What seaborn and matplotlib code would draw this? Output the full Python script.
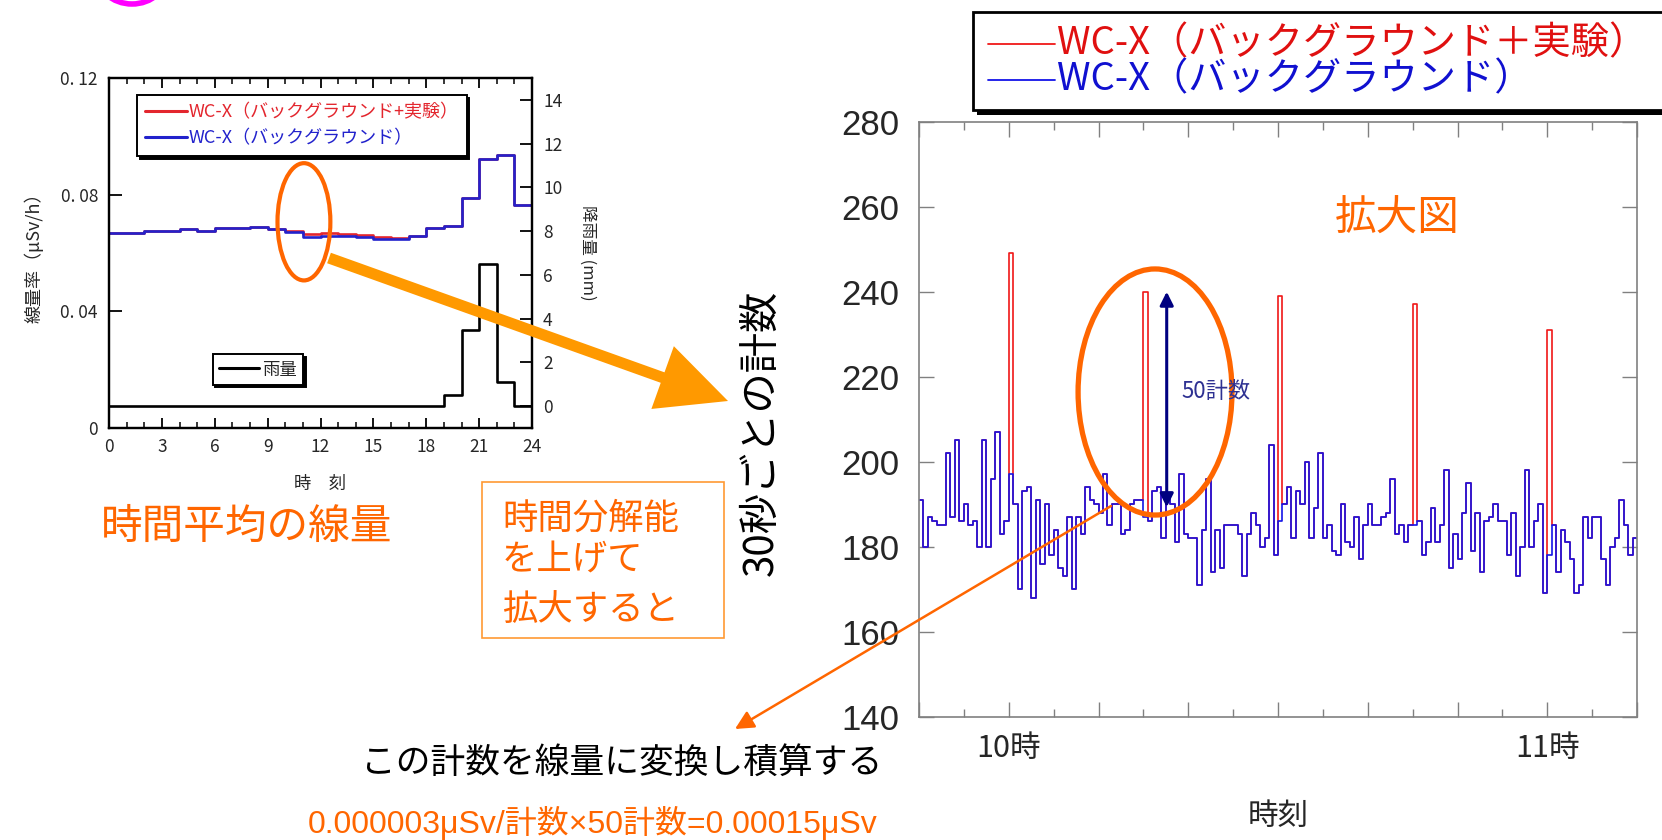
import numpy as np
import pandas as pd
import matplotlib
matplotlib.use("Agg")
import matplotlib.pyplot as plt
import seaborn as sns
from matplotlib.patches import Ellipse, Rectangle, FancyArrowPatch
from matplotlib.lines import Line2D
from matplotlib.ticker import FixedLocator, MultipleLocator

# ---------------- data: left chart (hourly averages) ----------------
hours = list(range(25))  # hour edges 0..24
dose_bg = [0.0669, 0.0669, 0.0677, 0.0677, 0.0682, 0.0677, 0.0686, 0.0686,
           0.0689, 0.0682, 0.0672, 0.0655, 0.0658, 0.0658, 0.0655, 0.0649,
           0.0649, 0.0658, 0.0686, 0.0693, 0.0789, 0.0923, 0.0935, 0.0763]
dose_exp = [0.0669, 0.0669, 0.0677, 0.0677, 0.0682, 0.0677, 0.0686, 0.0686,
            0.0689, 0.0682, 0.0676, 0.0666, 0.0668, 0.0664, 0.0662, 0.0655,
            0.0653, 0.0658, 0.0686, 0.0693, 0.0789, 0.0923, 0.0935, 0.0763]
rain_mm = [0, 0, 0, 0, 0, 0, 0, 0, 0, 0, 0, 0, 0, 0, 0, 0, 0, 0, 0,
           0.5, 3.5, 6.5, 1.1, 0.0]
left_yticks = [0, 0.04, 0.08, 0.12]
left_yticklabels = ["0", "0. 04", "0. 08", "0. 12"]
left_xticks = [0, 3, 6, 9, 12, 15, 18, 21, 24]
rain_ticks = [0, 2, 4, 6, 8, 10, 12, 14]

# ---------------- data: right chart (30 s counts, 9:50 - 11:10) ----------------
counts_bg = [191, 180, 187, 186, 185, 185, 202, 187, 205, 186,
             190, 185, 186, 180, 205, 180, 196, 207, 183, 186,
             197, 190, 170, 193, 194, 168, 191, 176, 190, 178,
             184, 175, 173, 187, 170, 187, 183, 194, 191, 190,
             188, 197, 185, 190, 190, 183, 184, 190, 191, 191,
             187, 186, 193, 194, 182, 192, 190, 181, 197, 183,
             182, 182, 171, 184, 196, 174, 184, 175, 185, 185,
             185, 183, 173, 183, 188, 185, 180, 182, 204, 178,
             186, 190, 194, 182, 193, 190, 200, 182, 189, 202,
             182, 185, 179, 178, 190, 181, 180, 187, 177, 185,
             190, 185, 185, 187, 188, 196, 183, 185, 181, 185,
             185, 186, 178, 181, 189, 181, 185, 198, 175, 183,
             177, 188, 195, 179, 188, 174, 186, 187, 190, 186,
             186, 178, 188, 173, 180, 198, 180, 186, 190, 169,
             178, 185, 174, 184, 181, 177, 169, 171, 187, 182,
             187, 187, 177, 171, 180, 182, 191, 185, 178, 182]
spike_steps = [20, 50, 80, 110, 140]
spike_counts = [249, 240, 239, 237, 231]
right_yticks = [140, 160, 180, 200, 220, 240, 260, 280]
right_xticks = [0, 20, 40, 60, 80, 100, 120, 140, 160]
right_xticklabels = ["", "10時", "", "", "", "", "", "11時", ""]

counts_exp = list(counts_bg)
for s, c in zip(spike_steps, spike_counts):
    counts_exp[s] = c


def ext(v):
    return list(v) + [v[-1]]


# ---------------- figure ----------------
sns.set_theme(style="white")
plt.rcParams["font.family"] = ["Noto Sans CJK JP", "DejaVu Sans"]
plt.rcParams["axes.unicode_minus"] = False

W, H = 1662, 840
fig = plt.figure(figsize=(W / 100, H / 100), dpi=100)
fig.patch.set_facecolor("white")


def fx(x):
    return x / W


def fy(y):
    return 1 - y / H


ORANGE = "#FF6600"

# ================= left chart =================
axL = fig.add_axes([fx(109), fy(428), (532 - 109) / W, (428 - 78) / H])
axL.set_facecolor("none")
axRain = axL.twinx()

dfL = pd.DataFrame({"hour": hours, "bg": ext(dose_bg), "exp": ext(dose_exp),
                    "rain": ext(rain_mm)})
sns.lineplot(data=dfL, x="hour", y="exp", ax=axL, color="#E3262E", lw=1.9,
             drawstyle="steps-post", estimator=None)
sns.lineplot(data=dfL, x="hour", y="bg", ax=axL, color="#2222CC", lw=1.9,
             drawstyle="steps-post", estimator=None)
sns.lineplot(data=dfL, x="hour", y="rain", ax=axRain, color="black", lw=1.9,
             drawstyle="steps-post", estimator=None)

axL.set_xlim(0, 24)
axL.set_ylim(0, 0.12)
axRain.set_ylim(-1.0, 15.0)
axL.xaxis.set_major_locator(FixedLocator(left_xticks))
axL.xaxis.set_minor_locator(MultipleLocator(1))
axL.yaxis.set_major_locator(FixedLocator(left_yticks))
axL.set_yticklabels(left_yticklabels)
axRain.yaxis.set_major_locator(FixedLocator(rain_ticks))
axL.tick_params(axis="x", which="major", direction="in", top=True, bottom=True,
                length=7, width=1.3, color="black", labelsize=12.5, pad=7)
axL.tick_params(axis="x", which="minor", direction="in", top=True, bottom=True,
                length=4, width=1.1, color="black")
axL.tick_params(axis="y", direction="in", left=True, right=False, length=9,
                width=1.3, color="black", labelsize=12.5, pad=8)
axRain.tick_params(axis="y", direction="in", right=True, length=9, width=1.3,
                   color="black", labelsize=12.5, pad=8)
for a in (axL, axRain):
    for sp in a.spines.values():
        sp.set_color("black")
        sp.set_linewidth(1.6)
axL.set_xlabel("時　刻", fontsize=12.5, labelpad=14)
axL.set_ylabel("線量率（μSv/h）", fontsize=13, labelpad=12)
axRain.set_ylabel("降雨量 (mm)", fontsize=12, rotation=270, labelpad=24)

legL = axRain.legend(
    handles=[Line2D([], [], color="#E3262E", lw=2.2),
             Line2D([], [], color="#2222CC", lw=2.2)],
    labels=["WC-X（バックグラウンド+実験）", "WC-X（バックグラウンド）"],
    loc="upper left", bbox_to_anchor=(0.066, 0.95), fontsize=13,
    frameon=True, fancybox=False, shadow={"color": "black", "alpha": 1},
    edgecolor="black", handlelength=2.3, handletextpad=0.1, borderpad=0.45,
    labelspacing=0.45, borderaxespad=0)
legL.get_frame().set_linewidth(1.4)
legL.get_texts()[0].set_color("#E3262E")
legL.get_texts()[1].set_color("#2222CC")
axRain.add_artist(legL)
legRain = axRain.legend(
    handles=[Line2D([], [], color="black", lw=2.2)], labels=["雨量"],
    loc="upper left", bbox_to_anchor=(0.245, 0.21), fontsize=12.5,
    frameon=True, fancybox=False, shadow={"color": "black", "alpha": 1},
    edgecolor="black", handlelength=2.3, handletextpad=0.2, borderpad=0.35,
    borderaxespad=0)
legRain.get_frame().set_linewidth(1.4)

axL.add_patch(Ellipse((11.06, 0.0707), 3.0, 0.0402, fill=False,
                      edgecolor=ORANGE, lw=3.0, zorder=5))

# ================= right chart =================
axR = fig.add_axes([fx(919), fy(716.7), (1637 - 919) / W, (716.7 - 121.7) / H])
steps = list(range(len(counts_bg) + 1))
dfR = pd.DataFrame({"step": steps, "exp": ext(counts_exp), "bg": ext(counts_bg)})
sns.lineplot(data=dfR, x="step", y="exp", ax=axR, color="#F01818", lw=1.2,
             drawstyle="steps-post", estimator=None)
sns.lineplot(data=dfR, x="step", y="bg", ax=axR, color="#1414E8", lw=1.2,
             drawstyle="steps-post", estimator=None)
axR.set_xlim(0, 160)
axR.set_ylim(140, 280)
axR.yaxis.set_major_locator(FixedLocator(right_yticks))
axR.xaxis.set_major_locator(FixedLocator(right_xticks))
axR.set_xticklabels(right_xticklabels)
axR.xaxis.set_minor_locator(FixedLocator(list(range(10, 160, 20))))
axR.tick_params(axis="x", which="major", direction="in", top=True, bottom=True,
                length=11, width=1.0, color="#808080", labelsize=22, pad=12)
axR.tick_params(axis="x", which="minor", direction="in", top=True, bottom=True,
                length=6, width=1.0, color="#808080")
axR.tick_params(axis="y", direction="in", left=True, right=True, length=11,
                width=1.0, color="#808080", labelsize=25, pad=14,
                labelfontfamily="Liberation Sans")
for sp in axR.spines.values():
    sp.set_color("#808080")
    sp.set_linewidth(1.2)
axR.set_xlabel("時刻", fontsize=22, labelpad=26)
axR.set_ylabel("")

axR.add_patch(Ellipse((52.6, 216.4), 34.3, 57.9, fill=False, edgecolor=ORANGE,
                      lw=3.8, zorder=5))
axR.annotate("", xy=(55.2, 240.0), xytext=(55.2, 189.3),
             arrowprops=dict(arrowstyle="<|-|>", color="#000080", lw=2.2,
                             mutation_scale=20, shrinkA=0, shrinkB=0), zorder=6)
axR.text(58.5, 216.6, "50計数", fontsize=16, color="#2E3192", va="center",
         ha="left", zorder=6)

# y label of right chart
fig.text(fx(761), fy(433), "30秒ごとの計数", rotation=90, fontsize=29,
         ha="center", va="center", color="black")

# right legend (manual box with shadow)
fig.add_artist(Rectangle((fx(977), fy(115)), (1700 - 977) / W, (115 - 16) / H,
                         transform=fig.transFigure, facecolor="black",
                         edgecolor="black", lw=0, zorder=3))
fig.add_artist(Rectangle((fx(973), fy(110)), (1700 - 973) / W, (110 - 12) / H,
                         transform=fig.transFigure, facecolor="white",
                         edgecolor="black", lw=2.0, zorder=4))
fig.add_artist(Line2D([fx(988), fx(1055)], [fy(44), fy(44)],
                      transform=fig.transFigure, color="#F01818", lw=1.3,
                      zorder=5))
fig.add_artist(Line2D([fx(988), fx(1055)], [fy(80), fy(80)],
                      transform=fig.transFigure, color="#1414E8", lw=1.3,
                      zorder=5))
fig.text(fx(1057), fy(44), "WC-X（バックグラウンド＋実験）", fontsize=27.5,
         color="#E01010", ha="left", va="center", zorder=6)
fig.text(fx(1057), fy(80), "WC-X（バックグラウンド）", fontsize=27.5,
         color="#1010D0", ha="left", va="center", zorder=6)

# ================= annotations =================
fig.text(fx(1397), fy(219), "拡大図", fontsize=30, color=ORANGE,
         style="italic", ha="center", va="center")

# big orange arrow from left ellipse to right chart
fig.add_artist(FancyArrowPatch(
    (fx(329), fy(258)), (fx(728), fy(401)), transform=fig.transFigure,
    arrowstyle="simple,head_length=1.25,head_width=1.2,tail_width=0.2",
    mutation_scale=40, color="#FF9900", lw=0, shrinkA=0, shrinkB=0, zorder=7))

# thin orange pointer
fig.add_artist(FancyArrowPatch(
    (fx(1111), fy(506)), (fx(735), fy(729)), transform=fig.transFigure,
    arrowstyle="-|>,head_length=0.7,head_width=0.35", mutation_scale=16,
    color=ORANGE, lw=1.8, shrinkA=0, shrinkB=0, zorder=7))

# magenta mark at top-left
fig.add_artist(Ellipse((fx(132), fy(-28)), 72 / W, 64 / H,
                       transform=fig.transFigure, fill=False,
                       edgecolor="#FF00FF", lw=4, zorder=2))

fig.text(fx(101), fy(527), "時間平均の線量", fontsize=30, color=ORANGE,
         ha="left", va="center")

fig.add_artist(Rectangle((fx(482), fy(638)), (724 - 482) / W, (638 - 482) / H,
                         transform=fig.transFigure, fill=False,
                         edgecolor="#FF9933", lw=1.2))
for txt, yy in zip(["時間分解能", "を上げて", "拡大すると"], [519, 561, 610]):
    fig.text(fx(502), fy(yy), txt, fontsize=25.5, color=ORANGE, ha="left",
             va="center")

fig.text(fx(622), fy(763), "この計数を線量に変換し積算する", fontsize=25,
         color="black", ha="center", va="center")
fig.text(fx(593), fy(823), "0.000003μSv/計数×50計数=0.00015μSv", fontsize=23,
         color=ORANGE, ha="center", va="center",
         family=["Liberation Sans", "Noto Sans CJK JP"])

fig.savefig("out.png", dpi=100, facecolor="white")
